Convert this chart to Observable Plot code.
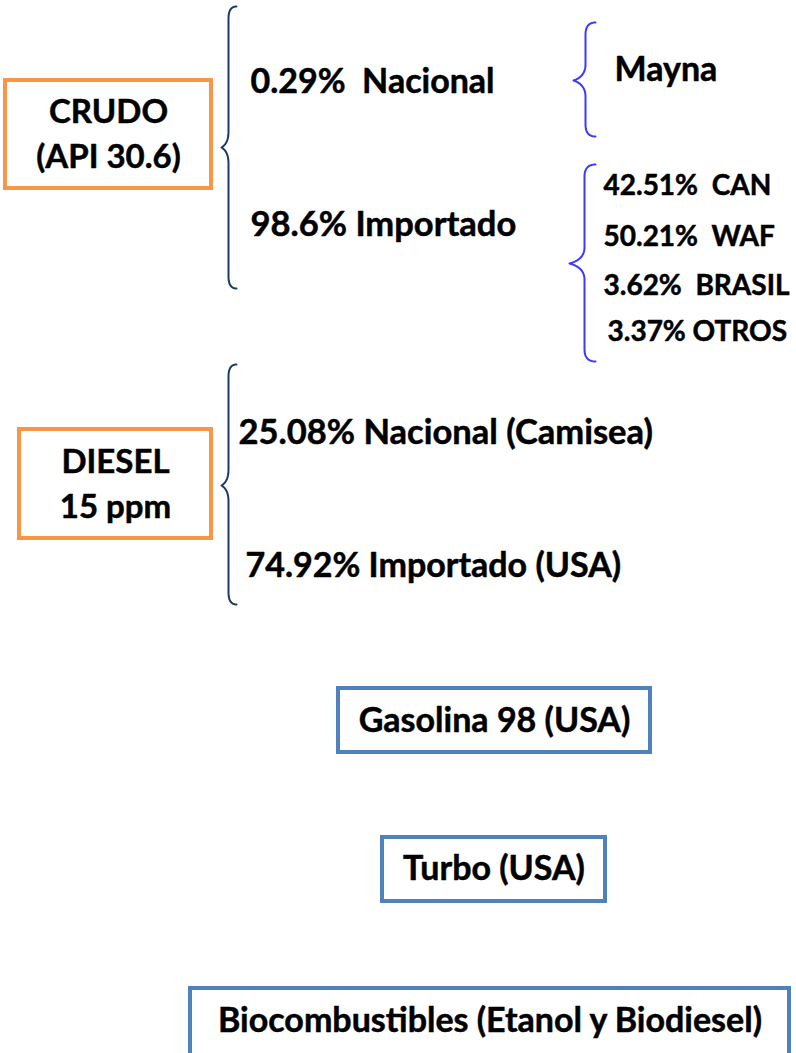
<!DOCTYPE html>
<html>
<head>
<meta charset="utf-8">
<script src="https://cdn.jsdelivr.net/npm/d3@7"></script>
<script src="https://cdn.jsdelivr.net/npm/@observablehq/plot@0.6"></script>
<style>
  html, body { margin: 0; padding: 0; background: #ffffff; }
  svg { display: block; }
</style>
</head>
<body>
<div id="chart"></div>
<script>
// ---------- DATA ----------
const sourceBoxes = ["CRUDO\n(API 30.6)", "DIESEL\n15 ppm"];
const crudoShares = ["0.29%  Nacional", "98.6% Importado"];
const crudoNationalOrigin = ["Mayna"];
const crudoImportOrigins = ["42.51%  CAN", "50.21%  WAF", "3.62%  BRASIL", "3.37% OTROS"];
const dieselShares = ["25.08% Nacional (Camisea)", "74.92% Importado (USA)"];
const importedProducts = ["Gasolina 98 (USA)", "Turbo (USA)", "Biocombustibles (Etanol y Biodiesel)"];

// ---------- LAYOUT (page coordinates) ----------
const ORANGE = "#f79646", STEEL = "#4f81bd", NAVY = "#1f3b63", BLUE = "#3b3bff";
const FONT = "Lato";

const sourceBoxLayout = [
  {x1: 5, x2: 211, y1: 80, y2: 188, cy: 131},
  {x1: 19, x2: 211, y1: 429, y2: 538, cy: 481}
];
const productBoxLayout = [
  {x1: 338, x2: 650, y1: 688, y2: 752, cy: 721},
  {x1: 382, x2: 605, y1: 837, y2: 901, cy: 869},
  {x1: 190, x2: 789, y1: 988, y2: 1060, cy: 1021}
];
const bigTextLayout = [
  {x: 250, y: 82, size: 34}, {x: 250, y: 224, size: 34.5},   // crudo shares
  {x: 238, y: 432, size: 34.5}, {x: 245, y: 566, size: 34}   // diesel shares
];
const maynaLayout = {x: 614, y: 70};
const originLayout = [
  {x: 603, y: 186}, {x: 603, y: 237}, {x: 603, y: 286}, {x: 607, y: 332}
];
const braceLayout = [
  {x: 228, top: 6, bottom: 288, tipX: 221, tipY: 147, hook: 236, color: NAVY},
  {x: 585, top: 22, bottom: 136, tipX: 573, tipY: 80, hook: 595, color: BLUE},
  {x: 584, top: 164, bottom: 361, tipX: 569, tipY: 263, hook: 595, color: BLUE},
  {x: 228, top: 364, bottom: 604, tipX: 221, tipY: 485, hook: 236, color: NAVY}
];

// ---------- brace geometry ----------
function quad(p0, c, p1, n = 10) {
  const pts = [];
  for (let i = 0; i <= n; i++) {
    const t = i / n, u = 1 - t;
    pts.push([u*u*p0[0] + 2*u*t*c[0] + t*t*p1[0], u*u*p0[1] + 2*u*t*c[1] + t*t*p1[1]]);
  }
  return pts;
}
function bracePoints(b, id) {
  const r = 12, s = 16;
  const pts = [
    ...quad([b.hook, b.top], [b.x, b.top], [b.x, b.top + r]),
    ...quad([b.x, b.tipY - s], [b.x, b.tipY - s * 0.25], [b.tipX, b.tipY]),
    ...quad([b.tipX, b.tipY], [b.x, b.tipY + s * 0.25], [b.x, b.tipY + s]),
    ...quad([b.x, b.bottom - r], [b.x, b.bottom], [b.hook, b.bottom])
  ];
  return pts.map(([x, y]) => ({x, y, id, color: b.color}));
}
const braceData = braceLayout.flatMap((b, i) => bracePoints(b, i));

// tables for marks
const sourceBoxTable = sourceBoxes.map((label, i) => ({label, ...sourceBoxLayout[i]}));
const productTable = importedProducts.map((label, i) => ({label, ...productBoxLayout[i]}));
const bigTextTable = [...crudoShares, ...dieselShares].map((label, i) => ({label, ...bigTextLayout[i]}));
const originTable = crudoImportOrigins.map((label, i) => ({label, ...originLayout[i]}));
const maynaTable = crudoNationalOrigin.map(label => ({label, ...maynaLayout}));

const textStyle = {fontWeight: 700, fill: "#000", stroke: "#000", strokeWidth: 0.5, lineAnchor: "middle"};

const chart = Plot.plot({
  width: 796,
  height: 1053,
  margin: 0,
  x: {domain: [0, 796], range: [0, 796], axis: null},
  y: {domain: [0, 1053], range: [0, 1053], axis: null},
  style: {fontFamily: FONT, background: "#ffffff", color: "#000"},
  marks: [
    Plot.line(braceData, {x: "x", y: "y", z: "id", stroke: "color", strokeWidth: 2, curve: "linear"}),
    Plot.rect(sourceBoxTable, {x1: "x1", x2: "x2", y1: "y1", y2: "y2", fill: "white", stroke: ORANGE, strokeWidth: 4}),
    Plot.rect(productTable, {x1: "x1", x2: "x2", y1: "y1", y2: "y2", fill: "white", stroke: STEEL, strokeWidth: 4}),
    Plot.text(sourceBoxTable, {x: d => (d.x1 + d.x2) / 2, y: "cy", text: "label", fontSize: 33, lineHeight: 1.36, ...textStyle}),
    Plot.text(productTable, {x: d => (d.x1 + d.x2) / 2, y: "cy", text: "label", fontSize: 34, ...textStyle}),
    ...bigTextTable.map(d => Plot.text([d], {x: "x", y: "y", text: "label", fontSize: d.size, textAnchor: "start", ...textStyle})),
    Plot.text(maynaTable, {x: "x", y: "y", text: "label", fontSize: 34, textAnchor: "start", ...textStyle}),
    Plot.text(originTable, {x: "x", y: "y", text: "label", fontSize: 28, textAnchor: "start", ...textStyle})
  ]
});
document.getElementById("chart").appendChild(chart);
</script>
</body>
</html>
